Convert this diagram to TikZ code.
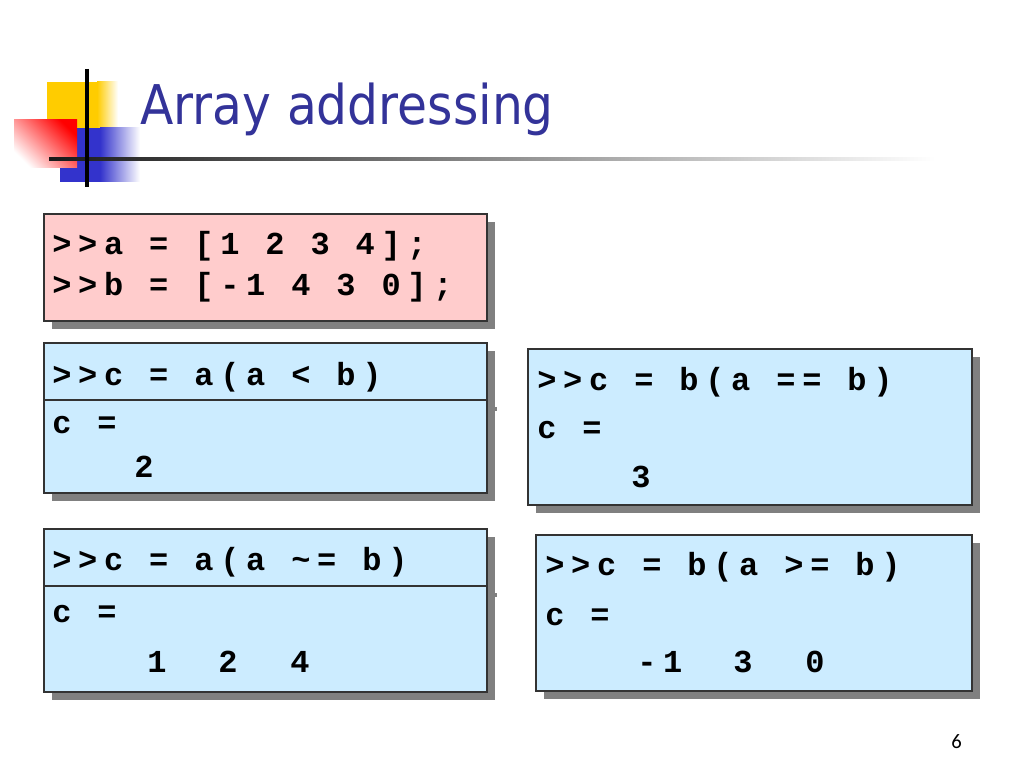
\documentclass[tikz,border=0pt]{standalone}
\usepackage{fontspec}
\usepackage{tikz}
\usetikzlibrary{calc}
\newfontfamily\titlefont{DejaVu Sans}
\newfontfamily\codefont[LetterSpace=21]{Liberation Mono}
\newfontfamily\numfont{Carlito}
\definecolor{titleblue}{HTML}{333399}
\definecolor{boxpink}{HTML}{FFCCCC}
\definecolor{boxblue}{HTML}{CCECFF}
\definecolor{shadowgray}{HTML}{808080}
\definecolor{logoyellow}{HTML}{FFCC00}
\definecolor{logoblue}{HTML}{3333CC}
\tikzset{
  codeline/.style={anchor=base west, inner sep=0pt, font=\codefont\bfseries\fontsize{22.5}{28}\selectfont},
  boxframe/.style={draw=black!80, line width=0.8pt},
  boxshadow/.style={fill=shadowgray},
}
\begin{document}
\begin{tikzpicture}[x=0.703125pt, y=-0.703125pt]
\useasboundingbox (0,0) rectangle (1024,768);
\def\sh{8}
% logo
\fill[logoyellow] (47,82) rectangle (97,128);
\shade[left color=logoyellow, right color=white] (97,82) rectangle (118,128);
\fill[logoblue] (60,128) rectangle (100,182);
\shade[left color=logoblue, right color=white] (100,128) rectangle (140,182);
\shade[top color=red, bottom color=white, shading angle=-45] (14,120) rectangle (77,168);
\shade[left color=black!90, right color=white] (49,157.5) rectangle (935,160.5);
\draw[line width=2.2pt] (87,69) -- (87,187);
\node[anchor=base west, inner sep=0pt, text=titleblue, font=\titlefont\fontsize{38.5}{40}\selectfont] (title) at (140,125) {\scalebox{0.89}[1]{Array addressing}};
% box a, b
\coordinate (A1) at (44,214);
\coordinate (A2) at (487,321);
\fill[boxshadow] ($(A1)+(\sh,\sh)$) rectangle ($(A2)+(\sh,\sh)$);
\draw[boxframe, fill=boxpink] (A1) rectangle (A2);
\node[codeline] (la) at (52,255) {>>a = [1 2 3 4];};
\node[codeline] (lb) at (52,295) {>>b = [-1 4 3 0];};
% box a < b
\coordinate (B1) at (44,343);
\coordinate (B2) at (487,493);
\fill[boxshadow] ($(B1)+(\sh,\sh)$) rectangle ($(B2)+(\sh,\sh)$);
\draw[shadowgray, line width=2.5pt] (487,409) -- (497,409);
\draw[boxframe, fill=boxblue] (B1) rectangle (B2);
\draw[boxframe] (44,400) -- (487,400);
\node[codeline] (lt) at (52,385) {>>c = a(a < b)};
\node[codeline] (lc) at (52,433) {c =};
\node[codeline] (lr) at (134,477) {2};
% box a == b
\coordinate (C1) at (528,349);
\coordinate (C2) at (972,505);
\fill[boxshadow] ($(C1)+(\sh,\sh)$) rectangle ($(C2)+(\sh,\sh)$);
\draw[boxframe, fill=boxblue] (C1) rectangle (C2);
\node[codeline] (et) at (537,390) {>>c = b(a == b)};
\node[codeline] (ec) at (537,438) {c =};
\node[codeline] (er) at (631,487) {3};
% box a ~= b
\coordinate (D1) at (44,529);
\coordinate (D2) at (487,692);
\fill[boxshadow] ($(D1)+(\sh,\sh)$) rectangle ($(D2)+(\sh,\sh)$);
\draw[shadowgray, line width=2.5pt] (487,595) -- (497,595);
\draw[boxframe, fill=boxblue] (D1) rectangle (D2);
\draw[boxframe] (44,586) -- (487,586);
\node[codeline] (nt) at (52,570) {>>c = a(a \string~= b)};
\node[codeline] (nc) at (52,622) {c =};
\node[codeline] (n1) at (147,672) {1};
\node[codeline] (n2) at (218,672) {2};
\node[codeline] (n4) at (290,672) {4};
% box a >= b
\coordinate (E1) at (536,535);
\coordinate (E2) at (972,691);
\fill[boxshadow] ($(E1)+(\sh,\sh)$) rectangle ($(E2)+(\sh,\sh)$);
\draw[boxframe, fill=boxblue] (E1) rectangle (E2);
\node[codeline] (gt) at (545,575) {>>c = b(a >= b)};
\node[codeline] (gc) at (545,625) {c =};
\node[codeline] (g1) at (637,672) {-1};
\node[codeline] (g3) at (733,672) {3};
\node[codeline] (g0) at (805,672) {0};
% page number
\node[anchor=base west, inner sep=0pt, font=\numfont\fontsize{14.5}{16}\selectfont] (page) at (951,748) {6};
\end{tikzpicture}
\end{document}
